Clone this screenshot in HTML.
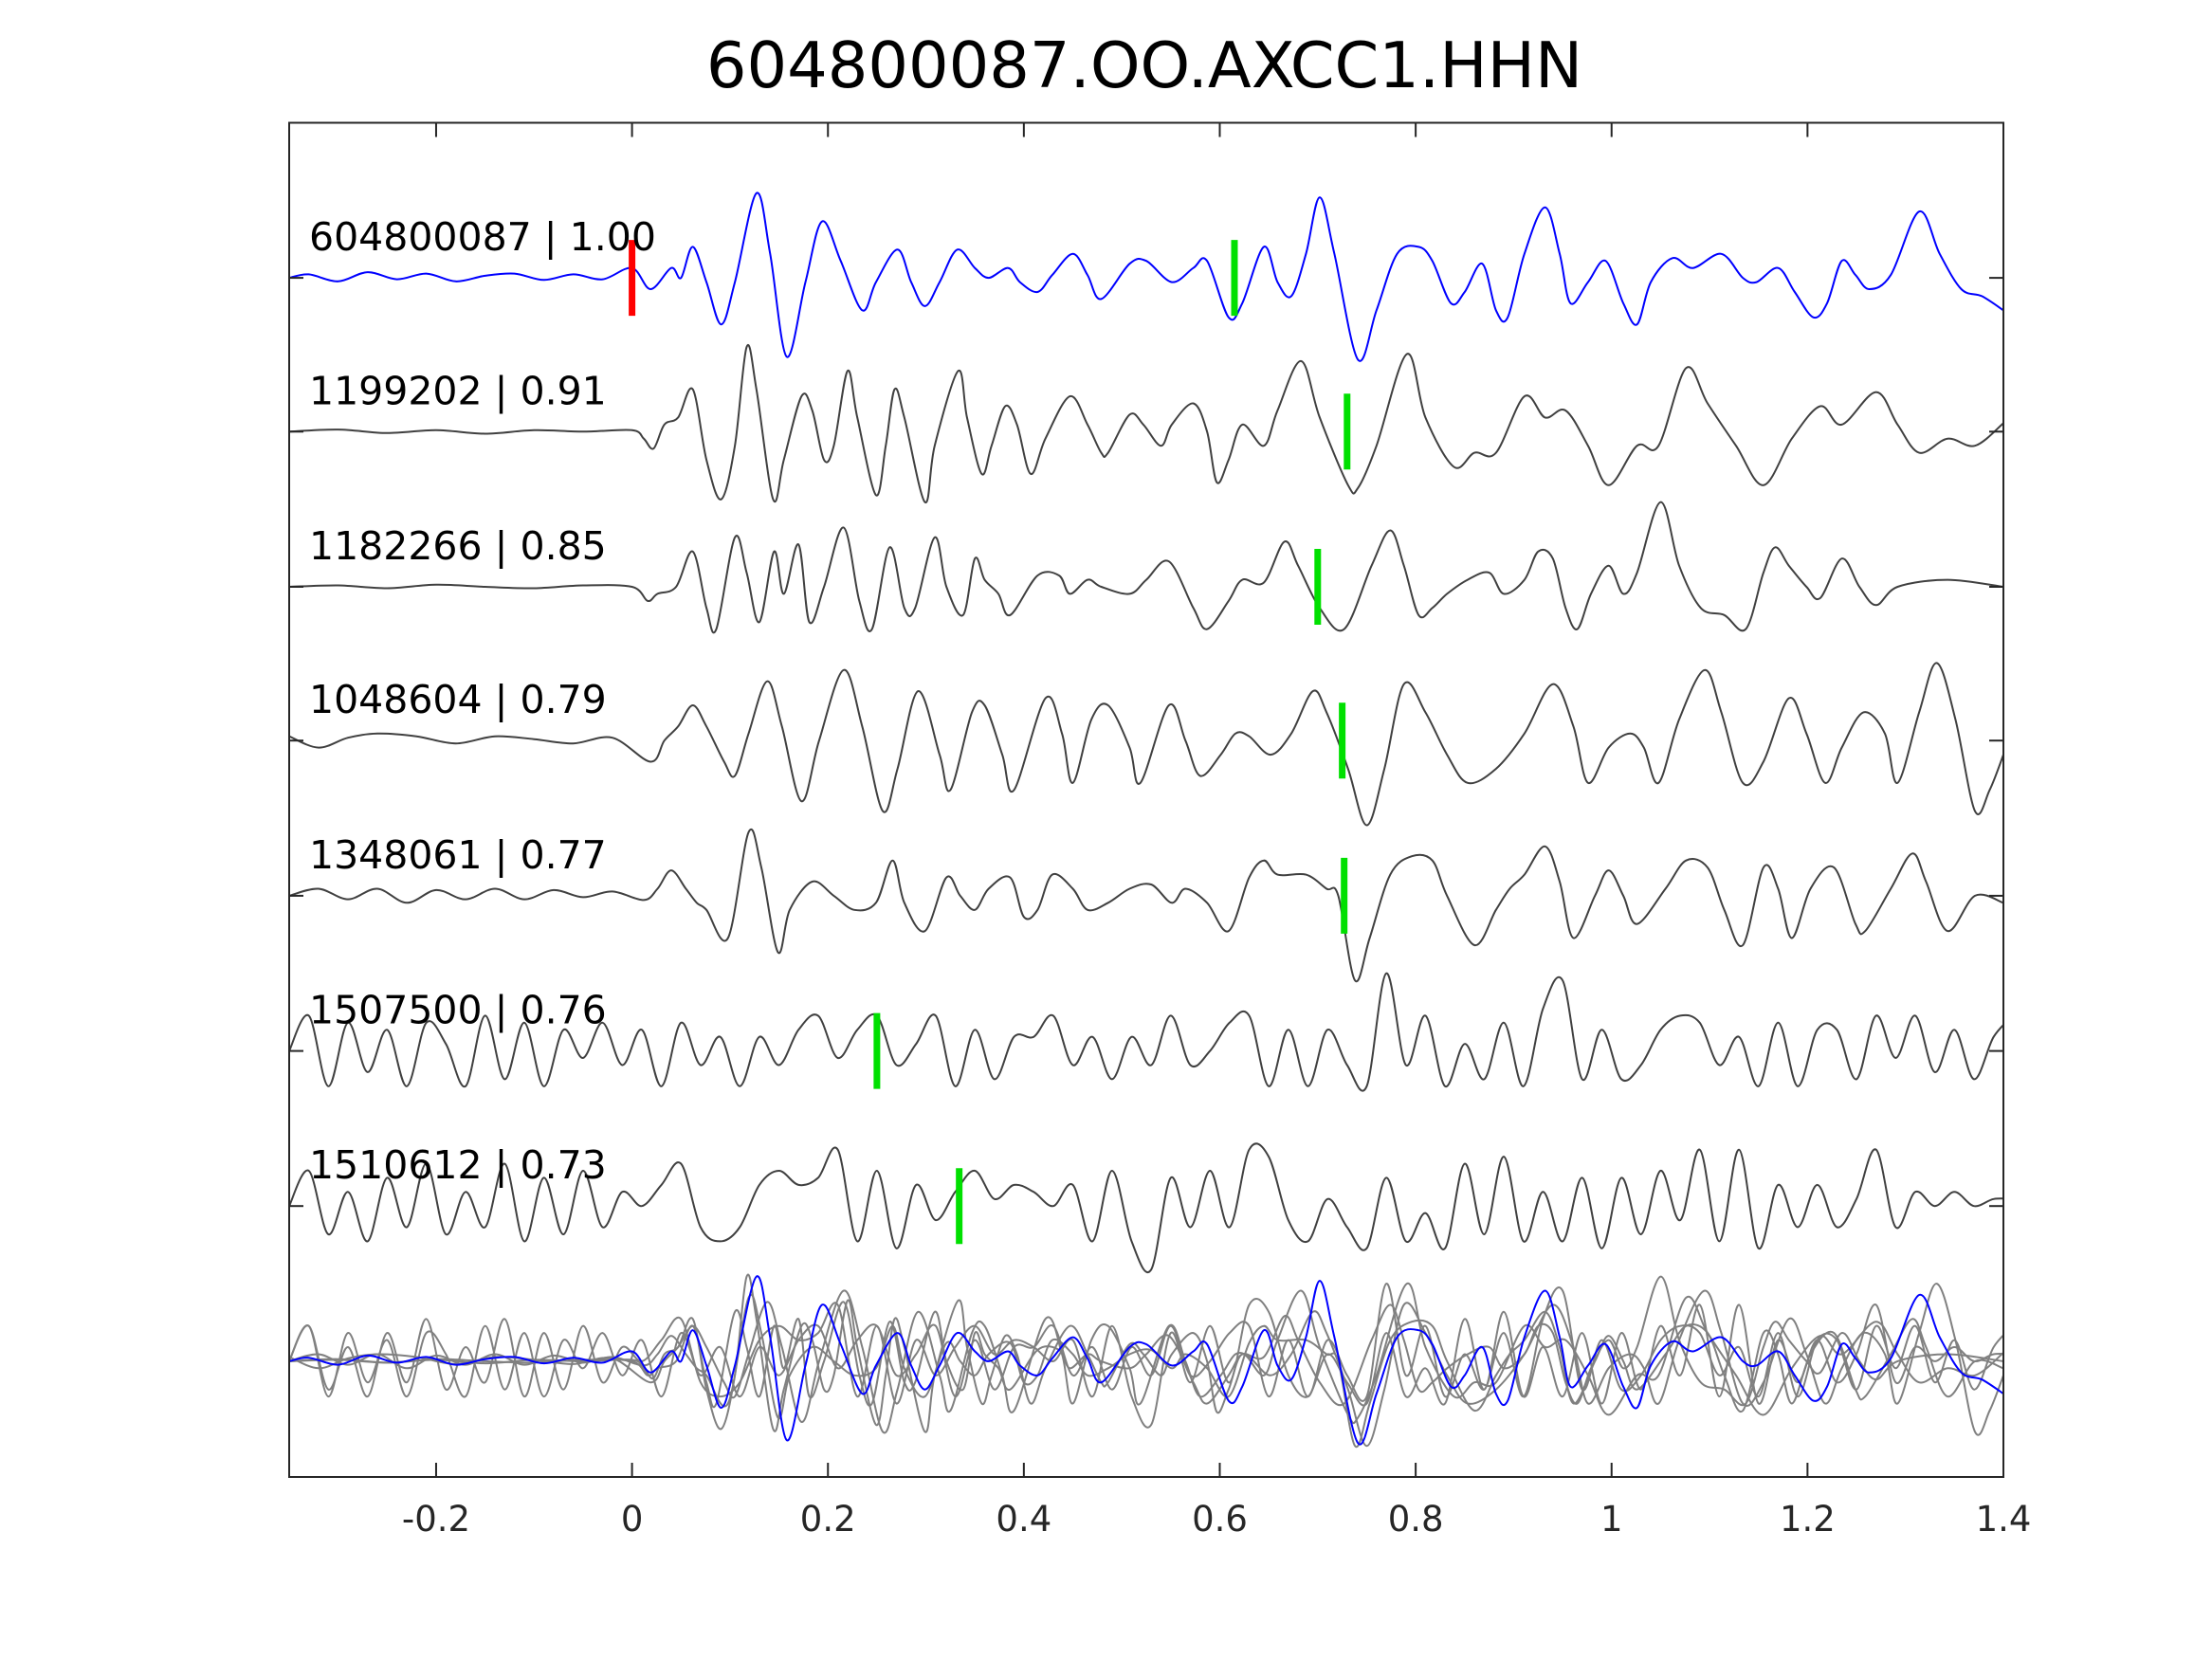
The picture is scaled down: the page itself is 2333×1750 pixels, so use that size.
<!DOCTYPE html>
<html><head><meta charset="utf-8"><style>
html,body{margin:0;padding:0;background:#fff;}
svg{display:block;font-family:"DejaVu Sans","Liberation Sans",sans-serif;}
</style></head><body>
<svg id="chart" width="2333" height="1750" viewBox="0 0 2333 1750">
<defs><clipPath id="plotclip"><rect x="305" y="129.5" width="1808" height="1428.5"/></clipPath></defs>
<rect width="2333" height="1750" fill="#fff"/>
<text x="1207" y="92" font-size="67" text-anchor="middle" fill="#000">604800087.OO.AXCC1.HHN</text>
<g id="traces" clip-path="url(#plotclip)"></g>
<g id="picks"></g>
<g id="labels"></g>
<g id="axes"></g>
</svg>
<script>
const tickLabels = ["-0.2","0","0.2","0.4","0.6","0.8","1","1.2","1.4"];
const tickValues = [-0.2,0,0.2,0.4,0.6,0.8,1,1.2,1.4];
const traceNames = ["604800087 | 1.00","1199202 | 0.91","1182266 | 0.85","1048604 | 0.79","1348061 | 0.77","1507500 | 0.76","1510612 | 0.73"];
const pickTimes = [0.615,0.73,0.70,0.725,0.727,0.25,0.334];
const refPick = 0;
const t1 = [-0.35,-0.33,-0.3,-0.27,-0.24,-0.21,-0.18,-0.15,-0.12,-0.09,-0.06,-0.03,0,0.019,0.04,0.05,0.062,0.076,0.091,0.105,0.127,0.141,0.158,0.177,0.194,0.213,0.235,0.249,0.271,0.285,0.299,0.314,0.332,0.35,0.364,0.384,0.396,0.414,0.429,0.45,0.465,0.479,0.508,0.525,0.551,0.573,0.587,0.609,0.623,0.645,0.659,0.673,0.688,0.702,0.717,0.741,0.76,0.781,0.803,0.817,0.836,0.85,0.868,0.882,0.894,0.911,0.932,0.947,0.958,0.976,0.994,1.012,1.026,1.04,1.062,1.083,1.112,1.134,1.148,1.17,1.187,1.206,1.22,1.235,1.249,1.263,1.285,1.314,1.335,1.357,1.378,1.4];
const a1 = [0,0.05,-0.05,0.08,-0.02,0.06,-0.05,0.03,0.06,-0.03,0.05,-0.02,0.14,-0.16,0.14,0,0.44,-0.06,-0.66,-0.06,1.2,0.34,-1.12,-0.06,0.8,0.24,-0.46,-0.06,0.4,-0.06,-0.4,-0.06,0.4,0.14,0,0.14,-0.06,-0.2,0.04,0.34,0.04,-0.3,0.2,0.24,-0.06,0.14,0.24,-0.56,-0.36,0.44,-0.06,-0.26,0.34,1.14,0.34,-1.16,-0.46,0.34,0.44,0.24,-0.36,-0.2,0.2,-0.46,-0.56,0.34,1.0,0.34,-0.36,-0.06,0.24,-0.36,-0.66,-0.06,0.28,0.14,0.34,0,-0.06,0.14,-0.2,-0.56,-0.36,0.24,0.04,-0.16,0.04,0.94,0.34,-0.16,-0.26,-0.46];
const t2 = [-0.35,-0.3,-0.25,-0.2,-0.15,-0.1,-0.05,0,0.012,0.022,0.033,0.047,0.062,0.076,0.091,0.105,0.117,0.127,0.144,0.155,0.173,0.184,0.196,0.206,0.22,0.23,0.249,0.259,0.268,0.278,0.299,0.309,0.333,0.342,0.357,0.367,0.381,0.393,0.407,0.422,0.447,0.465,0.479,0.486,0.508,0.522,0.54,0.551,0.573,0.587,0.597,0.609,0.623,0.645,0.659,0.683,0.702,0.731,0.741,0.76,0.791,0.81,0.839,0.86,0.882,0.911,0.932,0.953,0.976,0.997,1.026,1.048,1.076,1.098,1.127,1.155,1.184,1.213,1.235,1.27,1.292,1.314,1.343,1.371,1.4];
const a2 = [0,0.03,-0.02,0.02,-0.03,0.02,0,0.02,-0.1,-0.24,0.1,0.2,0.6,-0.4,-0.96,-0.2,1.2,0.6,-0.96,-0.4,0.5,0.3,-0.4,-0.2,0.86,0.2,-0.9,-0.2,0.6,0.2,-1.0,-0.2,0.86,0.2,-0.6,-0.2,0.36,0.1,-0.6,-0.1,0.5,0.1,-0.3,-0.3,0.24,0.1,-0.2,0.1,0.4,0,-0.72,-0.4,0.1,-0.2,0.3,1.0,0.2,-0.76,-0.8,-0.2,1.1,0.2,-0.5,-0.3,-0.3,0.5,0.2,0.3,-0.2,-0.76,-0.2,-0.2,0.9,0.4,-0.2,-0.76,-0.1,0.36,0.1,0.56,0.1,-0.3,-0.1,-0.2,0.12];
const t3 = [-0.35,-0.3,-0.25,-0.2,-0.15,-0.1,-0.05,0,0.016,0.026,0.045,0.062,0.076,0.086,0.105,0.117,0.13,0.145,0.155,0.17,0.181,0.196,0.216,0.232,0.245,0.263,0.278,0.289,0.309,0.321,0.338,0.35,0.36,0.374,0.386,0.414,0.436,0.447,0.465,0.479,0.508,0.525,0.548,0.573,0.587,0.609,0.623,0.645,0.666,0.68,0.702,0.727,0.755,0.774,0.788,0.803,0.817,0.832,0.853,0.875,0.89,0.911,0.925,0.94,0.953,0.965,0.979,0.997,1.012,1.026,1.05,1.069,1.091,1.115,1.137,1.155,1.167,1.181,1.199,1.213,1.235,1.253,1.27,1.292,1.343,1.4];
const a3 = [0,0.02,-0.02,0.03,0,-0.02,0.02,0,-0.2,-0.1,0,0.5,-0.3,-0.6,0.7,0.2,-0.5,0.5,-0.1,0.6,-0.5,0,0.84,-0.2,-0.6,0.56,-0.3,-0.3,0.7,0,-0.4,0.4,0.1,-0.1,-0.4,0.16,0.16,-0.1,0.1,0,-0.1,0.1,0.36,-0.3,-0.6,-0.2,0.1,0.06,0.64,0.3,-0.3,-0.6,0.3,0.8,0.3,-0.4,-0.3,-0.1,0.1,0.2,-0.1,0.1,0.5,0.4,-0.3,-0.6,-0.1,0.3,-0.1,0.2,1.2,0.3,-0.3,-0.4,-0.6,0.2,0.56,0.3,0,-0.16,0.4,0,-0.26,0,0.1,0];
const t4 = [-0.35,-0.32,-0.29,-0.26,-0.22,-0.18,-0.14,-0.1,-0.06,-0.02,0.019,0.033,0.047,0.062,0.076,0.094,0.105,0.119,0.138,0.153,0.173,0.191,0.216,0.235,0.256,0.271,0.292,0.314,0.325,0.347,0.36,0.378,0.39,0.422,0.439,0.45,0.469,0.486,0.508,0.519,0.548,0.565,0.58,0.601,0.616,0.63,0.652,0.673,0.695,0.709,0.731,0.75,0.768,0.788,0.81,0.832,0.853,0.882,0.911,0.94,0.961,0.976,0.997,1.019,1.033,1.048,1.069,1.095,1.112,1.134,1.155,1.181,1.199,1.218,1.235,1.257,1.279,1.292,1.314,1.332,1.351,1.371,1.386,1.4];
const a4 = [0.06,-0.1,0.04,0.1,0.06,-0.04,0.06,0.02,-0.04,0.04,-0.3,0,0.2,0.5,0.2,-0.3,-0.5,0.1,0.84,0.2,-0.86,0,1.0,0.2,-1.0,-0.4,0.7,-0.2,-0.7,0.4,0.5,-0.2,-0.7,0.6,0.1,-0.6,0.3,0.5,-0.1,-0.6,0.5,0,-0.5,-0.2,0.1,0.06,-0.2,0.1,0.7,0.4,-0.4,-1.2,-0.4,0.8,0.4,-0.2,-0.6,-0.4,0.1,0.8,0.2,-0.6,-0.1,0.1,-0.1,-0.6,0.3,1.0,0.4,-0.6,-0.3,0.6,0.1,-0.6,-0.1,0.4,0.1,-0.6,0.4,1.1,0.3,-1.0,-0.7,-0.2];
const t5 = [-0.35,-0.32,-0.29,-0.26,-0.23,-0.2,-0.17,-0.14,-0.11,-0.08,-0.05,-0.02,0.012,0.026,0.04,0.055,0.066,0.076,0.098,0.119,0.132,0.149,0.161,0.184,0.206,0.227,0.249,0.266,0.278,0.299,0.321,0.335,0.35,0.364,0.386,0.4,0.414,0.429,0.45,0.465,0.486,0.508,0.53,0.551,0.565,0.587,0.609,0.63,0.645,0.659,0.688,0.709,0.721,0.738,0.753,0.774,0.796,0.817,0.832,0.86,0.882,0.896,0.911,0.932,0.947,0.961,0.983,0.997,1.012,1.026,1.055,1.076,1.098,1.115,1.134,1.155,1.17,1.184,1.203,1.227,1.249,1.259,1.285,1.307,1.321,1.343,1.371,1.4];
const a5 = [0,0.1,-0.05,0.1,-0.1,0.08,-0.05,0.1,-0.05,0.08,-0.02,0.06,-0.06,0.1,0.36,0.1,-0.1,-0.2,-0.6,0.9,0.4,-0.8,-0.2,0.2,0,-0.2,-0.1,0.5,-0.1,-0.5,0.26,0,-0.2,0.1,0.26,-0.3,-0.2,0.3,0.1,-0.2,-0.1,0.1,0.16,-0.1,0.1,-0.1,-0.5,0.26,0.5,0.3,0.3,0.1,0,-1.2,-0.6,0.3,0.56,0.5,0,-0.7,-0.2,0.1,0.3,0.7,0.2,-0.6,0,0.36,0,-0.4,0.1,0.5,0.4,-0.2,-0.7,0.4,0.1,-0.6,0.1,0.4,-0.4,-0.5,0.1,0.6,0.2,-0.5,0,-0.1];
const start6 = -0.35, step6 = 0.02;
const a6 = [0,0.5,-0.5,0.4,-0.3,0.3,-0.5,0.4,0.1,-0.5,0.5,-0.4,0.4,-0.5,0.3,-0.1,0.4,-0.2,0.3,-0.5,0.4,-0.2,0.2,-0.5,0.2,-0.2,0.3,0.5,-0.1,0.3,0.5,-0.2,0.1,0.5,-0.5,0.3,-0.4,0.2,0.2,0.5,-0.2,0.2,-0.4,0.2,-0.2,0.5,-0.2,0,0.4,0.5,-0.5,0.3,-0.5,0.3,-0.2,-0.5,1.1,-0.2,0.5,-0.5,0.1,-0.4,0.4,-0.5,0.6,1.0,-0.4,0.3,-0.4,-0.2,0.3,0.5,0.4,-0.2,0.2,-0.5,0.4,-0.5,0.3,0.3,-0.4,0.5,-0.1,0.5,-0.3,0.3,-0.4,0.2,0.5];
const start7 = -0.35, step7 = 0.02;
const a7 = [0,0.5,-0.4,0.2,-0.5,0.4,-0.3,0.6,-0.4,0.2,-0.3,0.6,-0.5,0.4,-0.4,0.5,-0.3,0.2,0,0.3,0.6,-0.3,-0.5,-0.3,0.3,0.5,0.3,0.4,0.8,-0.5,0.5,-0.6,0.3,-0.2,0.2,0.5,0.1,0.3,0.2,0,0.3,-0.5,0.5,-0.5,-0.9,0.4,-0.3,0.5,-0.3,0.8,0.7,-0.2,-0.5,0.1,-0.3,-0.6,0.4,-0.5,-0.1,-0.6,0.6,-0.4,0.7,-0.5,0.2,-0.5,0.4,-0.6,0.4,-0.4,0.5,-0.2,0.8,-0.5,0.8,-0.6,0.3,-0.3,0.3,-0.3,0.1,0.8,-0.3,0.2,0,0.2,0,0.1,0.1];

// layout
const L=305,R=2113,T=129.5,B=1558;
const X0=-0.35,X1=1.4;
const baselines=[293.1,455.3,619,781.2,944.9,1108.6,1272.2,1435.9];
const AMP=74.4;
const xs=t=>L+(t-X0)/(X1-X0)*(R-L);
const ys=(a,b)=>b-a*AMP;
const NS='http://www.w3.org/2000/svg';
function mk(tag,attrs,parent){const e=document.createElementNS(NS,tag);for(const k in attrs)e.setAttribute(k,attrs[k]);parent.appendChild(e);return e;}
function uni(start,step,arr){return arr.map((_,i)=>start+i*step);}
const series=[[t1,a1],[t2,a2],[t3,a3],[t4,a4],[t5,a5],[uni(start6,step6,a6),a6],[uni(start7,step7,a7),a7]];
function smoothPath(ts,as,b){
  const p=ts.map((t,i)=>[xs(t),ys(as[i],b)]);
  let d='M'+p[0][0].toFixed(1)+','+p[0][1].toFixed(1);
  for(let i=0;i<p.length-1;i++){
    const p0=p[Math.max(0,i-1)],p1=p[i],p2=p[i+1],p3=p[Math.min(p.length-1,i+2)];
    const c1=[p1[0]+(p2[0]-p0[0])/6,p1[1]+(p2[1]-p0[1])/6];
    const c2=[p2[0]-(p3[0]-p1[0])/6,p2[1]-(p3[1]-p1[1])/6];
    d+='C'+c1[0].toFixed(1)+','+c1[1].toFixed(1)+' '+c2[0].toFixed(1)+','+c2[1].toFixed(1)+' '+p2[0].toFixed(1)+','+p2[1].toFixed(1);
  }
  return d;
}
const tg=document.getElementById('traces');
for(let k=1;k<series.length;k++){
  const [ts,as]=series[k];
  const e=mk('path',{d:smoothPath(ts,as,baselines[7]),fill:'none',stroke:'#808080','stroke-width':2},tg);
  
  
}
{
  const e=mk('path',{d:smoothPath(t1,a1,baselines[7]),fill:'none',stroke:'#0000ff','stroke-width':2},tg);
  
  
}
for(let k=0;k<series.length;k++){
  const [ts,as]=series[k];
  const e=mk('path',{d:smoothPath(ts,as,baselines[k]),fill:'none',stroke:k===0?'#0000ff':'#404040','stroke-width':2},tg);
  
  
}
const pg=document.getElementById('picks');
{
  const e=mk('line',{x1:xs(refPick),x2:xs(refPick),y1:baselines[0]-40,y2:baselines[0]+40,stroke:'#ff0000','stroke-width':7},pg);
  
  
}
for(let k=0;k<pickTimes.length;k++){
  const e=mk('line',{x1:xs(pickTimes[k]),x2:xs(pickTimes[k]),y1:baselines[k]-40,y2:baselines[k]+40,stroke:'#00e000','stroke-width':7},pg);
  
  
}
const lg=document.getElementById('labels');
for(let k=0;k<traceNames.length;k++){
  const e=mk('text',{x:326,y:baselines[k]-29,'font-size':41,fill:'#000'},lg);
  e.textContent=traceNames[k];
  
  
}
const ag=document.getElementById('axes');
{
  const e=mk('rect',{x:L,y:T,width:R-L,height:B-T,fill:'none',stroke:'#262626','stroke-width':2},ag);
  
  
}
for(let i=0;i<tickValues.length;i++){
  const x=xs(tickValues[i]);
  mk('line',{x1:x,x2:x,y1:B,y2:B-15,stroke:'#262626','stroke-width':2},ag);
  mk('line',{x1:x,x2:x,y1:T,y2:T+15,stroke:'#262626','stroke-width':2},ag);
  const e=mk('text',{x:x,y:1615,'font-size':37,'text-anchor':'middle',fill:'#262626'},ag);
  e.textContent=tickLabels[i];
  
  
}
for(let k=0;k<baselines.length-1;k++){
  mk('line',{x1:L,x2:L+15,y1:baselines[k],y2:baselines[k],stroke:'#262626','stroke-width':2},ag);
  mk('line',{x1:R-15,x2:R,y1:baselines[k],y2:baselines[k],stroke:'#262626','stroke-width':2},ag);
}
</script>
</body></html>
